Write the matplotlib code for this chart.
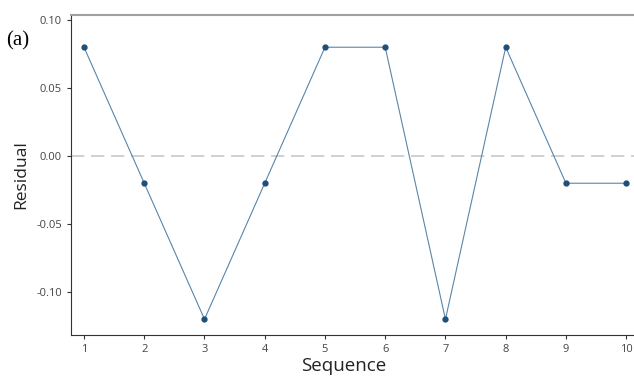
import matplotlib
matplotlib.use("Agg")
import matplotlib.pyplot as plt

sequence = [1, 2, 3, 4, 5, 6, 7, 8, 9, 10]
residual = [0.08, -0.02, -0.12, -0.02, 0.08, 0.08, -0.12, 0.08, -0.02, -0.02]
yticks = [-0.10, -0.05, 0.00, 0.05, 0.10]
ytick_labels = ["-0.10", "-0.05", "0.00", "0.05", "0.10"]

plt.rcParams['font.family'] = ['Open Sans', 'DejaVu Sans']

fig = plt.figure(figsize=(6.34, 3.76), dpi=100)
ax = fig.add_axes([71/634, 41/376, 563/634, 320/376])

ax.axhline(0, color='#c8c8c8', lw=1.2, dashes=(8, 4), zorder=1)
ax.plot(sequence, residual, color='#5a86a8', lw=0.8, zorder=2)
ax.plot(sequence, residual, 'o', color='#1f4e79', ms=3.5, zorder=3)

ax.set_xlim(0.784, 10.13)
ax.set_ylim(-0.1316, 0.1037)
ax.set_xticks(sequence)
ax.set_yticks(yticks)
ax.set_yticklabels(ytick_labels)

ax.spines['right'].set_visible(False)
ax.spines['top'].set_color('#a0a0a0')
ax.spines['top'].set_linewidth(1.5)
ax.spines['left'].set_color('#333333')
ax.spines['bottom'].set_color('#333333')
ax.tick_params(axis='both', labelsize=8, colors='#333333', labelcolor='#444444', length=3, width=0.8)

ax.set_xlabel("Sequence", fontsize=13.5, color='#222222')
ax.xaxis.set_label_coords((344 - 71) / 563, -0.068)
ax.xaxis.label.set_va('top')
ax.set_ylabel("Residual", fontsize=12.5, color='#222222', labelpad=5)

fig.text(6/634, 1 - 41/376, "(a)", fontsize=15, family='Liberation Serif', va='center', ha='left', color='black')

fig.savefig("out.png", dpi=100)
